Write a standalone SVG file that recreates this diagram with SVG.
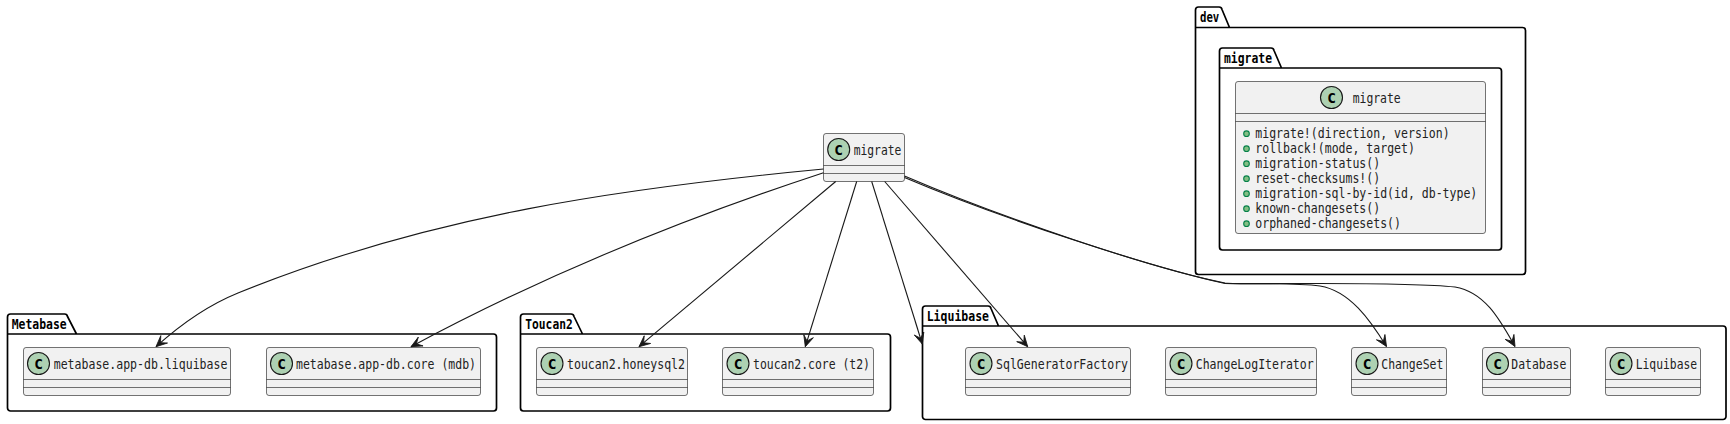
<svg xmlns="http://www.w3.org/2000/svg" width="1730" height="424" viewBox="0 0 1730 424">
<style>
text{font-family:"DejaVu Sans Mono","Liberation Mono",monospace;fill:#000}
.pkg{fill:none;stroke:#000;stroke-width:1.7;stroke-linejoin:round}
.pl{font-size:14px;font-weight:700}
.box{fill:#F1F1F1;stroke:#181818;stroke-width:.6}
.sep{stroke:#181818;stroke-width:.6}
.spot{fill:#ADD1B2;stroke:#181818;stroke-width:1.1}
.c{font-size:14.5px;font-weight:700;text-anchor:middle}
.t{font-size:13.5px;fill:#222}
.dot{fill:#84BE84;stroke:#038048;stroke-width:1.1}
.e{fill:none;stroke:#181818;stroke-width:1.1}
</style>
<defs>
<marker id="arr" markerUnits="userSpaceOnUse" markerWidth="14" markerHeight="14" refX="12" refY="7" orient="auto" viewBox="0 0 14 14">
<path d="M12,7 L1,2 L6,7 L1,12 Z" fill="#181818" stroke="#181818" stroke-width=".8"/>
</marker>
</defs>

<g id="pkg-metabase">
<path class="pkg" d="M7.5,317 A3,3 0 0 1 10.5,314 L64.5,314 A3,3 0 0 1 67.5,316.5 L76.5,334 L493.5,334 A3,3 0 0 1 496.5,337 L496.5,408 A3,3 0 0 1 493.5,411 L10.5,411 A3,3 0 0 1 7.5,408 Z M7.5,334 L76.5,334"/>
<text class="pl" x="11.7" y="329" textLength="55" lengthAdjust="spacingAndGlyphs">Metabase</text>
</g>
<g id="pkg-toucan2">
<path class="pkg" d="M520.5,317 A3,3 0 0 1 523.5,314 L571,314 A3,3 0 0 1 574,316.5 L582.5,334 L887.5,334 A3,3 0 0 1 890.5,337 L890.5,408 A3,3 0 0 1 887.5,411 L523.5,411 A3,3 0 0 1 520.5,408 Z M520.5,334 L582.5,334"/>
<text class="pl" x="525.3" y="329" textLength="47.4" lengthAdjust="spacingAndGlyphs">Toucan2</text>
</g>
<g id="pkg-liquibase">
<path class="pkg" d="M922.5,309 A3,3 0 0 1 925.5,306 L988,306 A3,3 0 0 1 991,308.5 L998.5,326 L1723,326 A3,3 0 0 1 1726,329 L1726,416.5 A3,3 0 0 1 1723,419.5 L925.5,419.5 A3,3 0 0 1 922.5,416.5 Z M922.5,326 L998.5,326"/>
<text class="pl" x="926.7" y="321" textLength="62.3" lengthAdjust="spacingAndGlyphs">Liquibase</text>
</g>
<g id="pkg-dev">
<path class="pkg" d="M1195.5,10 A3,3 0 0 1 1198.5,7 L1219,7 A3,3 0 0 1 1222,9.5 L1229.5,27.5 L1522.5,27.5 A3,3 0 0 1 1525.5,30.5 L1525.5,271.5 A3,3 0 0 1 1522.5,274.5 L1198.5,274.5 A3,3 0 0 1 1195.5,271.5 Z M1195.5,27.5 L1229.5,27.5"/>
<text class="pl" x="1200" y="22" textLength="19.3" lengthAdjust="spacingAndGlyphs">dev</text>
</g>
<g id="pkg-dev-migrate">
<path class="pkg" d="M1219.5,51 A3,3 0 0 1 1222.5,48 L1271,48 A3,3 0 0 1 1274,50.5 L1281.5,68 L1498.5,68 A3,3 0 0 1 1501.5,71 L1501.5,247 A3,3 0 0 1 1498.5,250 L1222.5,250 A3,3 0 0 1 1219.5,247 Z M1219.5,68 L1281.5,68"/>
<text class="pl" x="1224" y="63" textLength="48" lengthAdjust="spacingAndGlyphs">migrate</text>
</g>

<g id="cls-migrate-members">
<rect class="box" x="1235.5" y="81.5" width="250" height="152" rx="2.5"/>
<line class="sep" x1="1235.5" y1="113.5" x2="1485.5" y2="113.5"/>
<line class="sep" x1="1235.5" y1="121.5" x2="1485.5" y2="121.5"/>
<circle class="spot" cx="1331.5" cy="97.5" r="11"/>
<text class="c" x="1331.5" y="102.5">C</text>
<text class="t" x="1352.7" y="102.5" textLength="48" lengthAdjust="spacingAndGlyphs">migrate</text>
<circle class="dot" cx="1246.5" cy="133.7" r="2.8"/>
<circle class="dot" cx="1246.5" cy="148.7" r="2.8"/>
<circle class="dot" cx="1246.5" cy="163.7" r="2.8"/>
<circle class="dot" cx="1246.5" cy="178.7" r="2.8"/>
<circle class="dot" cx="1246.5" cy="193.7" r="2.8"/>
<circle class="dot" cx="1246.5" cy="208.7" r="2.8"/>
<circle class="dot" cx="1246.5" cy="223.7" r="2.8"/>
<text class="t" x="1255.3" y="138.3" textLength="194.3" lengthAdjust="spacingAndGlyphs">migrate!(direction, version)</text>
<text class="t" x="1255.3" y="153.3" textLength="159.6" lengthAdjust="spacingAndGlyphs">rollback!(mode, target)</text>
<text class="t" x="1255.3" y="168.3" textLength="124.9" lengthAdjust="spacingAndGlyphs">migration-status()</text>
<text class="t" x="1255.3" y="183.3" textLength="124.9" lengthAdjust="spacingAndGlyphs">reset-checksums!()</text>
<text class="t" x="1255.3" y="198.3" textLength="222" lengthAdjust="spacingAndGlyphs">migration-sql-by-id(id, db-type)</text>
<text class="t" x="1255.3" y="213.3" textLength="124.9" lengthAdjust="spacingAndGlyphs">known-changesets()</text>
<text class="t" x="1255.3" y="228.3" textLength="145.7" lengthAdjust="spacingAndGlyphs">orphaned-changesets()</text>
</g>

<g id="cls-migrate">
<rect class="box" x="823.5" y="133.5" width="81" height="48" rx="2.5"/>
<line class="sep" x1="823.5" y1="165.5" x2="904.5" y2="165.5"/>
<line class="sep" x1="823.5" y1="173.5" x2="904.5" y2="173.5"/>
<circle class="spot" cx="838.7" cy="149.5" r="11"/>
<text class="c" x="838.7" y="154.5">C</text>
<text class="t" x="853.7" y="154.5" textLength="47.6" lengthAdjust="spacingAndGlyphs">migrate</text>
</g>

<g id="cls-mdb-liquibase">
<rect class="box" x="23.5" y="347.5" width="207" height="48" rx="2.5"/>
<line class="sep" x1="23.5" y1="379.5" x2="230.5" y2="379.5"/>
<line class="sep" x1="23.5" y1="387.5" x2="230.5" y2="387.5"/>
<circle class="spot" cx="38.5" cy="363.5" r="11"/>
<text class="c" x="38.5" y="368.5">C</text>
<text class="t" x="53.7" y="368.5" textLength="173.7" lengthAdjust="spacingAndGlyphs">metabase.app-db.liquibase</text>
</g>
<g id="cls-mdb-core">
<rect class="box" x="266.5" y="347.5" width="214" height="48" rx="2.5"/>
<line class="sep" x1="266.5" y1="379.5" x2="480.5" y2="379.5"/>
<line class="sep" x1="266.5" y1="387.5" x2="480.5" y2="387.5"/>
<circle class="spot" cx="281.5" cy="363.5" r="11"/>
<text class="c" x="281.5" y="368.5">C</text>
<text class="t" x="296" y="368.5" textLength="180" lengthAdjust="spacingAndGlyphs">metabase.app-db.core (mdb)</text>
</g>
<g id="cls-t2-honeysql">
<rect class="box" x="536.5" y="347.5" width="151" height="48" rx="2.5"/>
<line class="sep" x1="536.5" y1="379.5" x2="687.5" y2="379.5"/>
<line class="sep" x1="536.5" y1="387.5" x2="687.5" y2="387.5"/>
<circle class="spot" cx="552" cy="363.5" r="11"/>
<text class="c" x="552" y="368.5">C</text>
<text class="t" x="567" y="368.5" textLength="118" lengthAdjust="spacingAndGlyphs">toucan2.honeysql2</text>
</g>
<g id="cls-t2-core">
<rect class="box" x="722.5" y="347.5" width="151" height="48" rx="2.5"/>
<line class="sep" x1="722.5" y1="379.5" x2="873.5" y2="379.5"/>
<line class="sep" x1="722.5" y1="387.5" x2="873.5" y2="387.5"/>
<circle class="spot" cx="738" cy="363.5" r="11"/>
<text class="c" x="738" y="368.5">C</text>
<text class="t" x="753" y="368.5" textLength="117" lengthAdjust="spacingAndGlyphs">toucan2.core (t2)</text>
</g>
<g id="cls-sqlgen">
<rect class="box" x="965.5" y="347.5" width="165" height="48" rx="2.5"/>
<line class="sep" x1="965.5" y1="379.5" x2="1130.5" y2="379.5"/>
<line class="sep" x1="965.5" y1="387.5" x2="1130.5" y2="387.5"/>
<circle class="spot" cx="981" cy="363.5" r="11"/>
<text class="c" x="981" y="368.5">C</text>
<text class="t" x="996" y="368.5" textLength="132" lengthAdjust="spacingAndGlyphs">SqlGeneratorFactory</text>
</g>
<g id="cls-changelog">
<rect class="box" x="1165.5" y="347.5" width="151" height="48" rx="2.5"/>
<line class="sep" x1="1165.5" y1="379.5" x2="1316.5" y2="379.5"/>
<line class="sep" x1="1165.5" y1="387.5" x2="1316.5" y2="387.5"/>
<circle class="spot" cx="1181" cy="363.5" r="11"/>
<text class="c" x="1181" y="368.5">C</text>
<text class="t" x="1195.7" y="368.5" textLength="118" lengthAdjust="spacingAndGlyphs">ChangeLogIterator</text>
</g>
<g id="cls-changeset">
<rect class="box" x="1351.5" y="347.5" width="95" height="48" rx="2.5"/>
<line class="sep" x1="1351.5" y1="379.5" x2="1446.5" y2="379.5"/>
<line class="sep" x1="1351.5" y1="387.5" x2="1446.5" y2="387.5"/>
<circle class="spot" cx="1367" cy="363.5" r="11"/>
<text class="c" x="1367" y="368.5">C</text>
<text class="t" x="1381.3" y="368.5" textLength="62" lengthAdjust="spacingAndGlyphs">ChangeSet</text>
</g>
<g id="cls-database">
<rect class="box" x="1482.5" y="347.5" width="88" height="48" rx="2.5"/>
<line class="sep" x1="1482.5" y1="379.5" x2="1570.5" y2="379.5"/>
<line class="sep" x1="1482.5" y1="387.5" x2="1570.5" y2="387.5"/>
<circle class="spot" cx="1497.5" cy="363.5" r="11"/>
<text class="c" x="1497.5" y="368.5">C</text>
<text class="t" x="1511.3" y="368.5" textLength="55" lengthAdjust="spacingAndGlyphs">Database</text>
</g>
<g id="cls-liquibase">
<rect class="box" x="1605.5" y="347.5" width="95" height="48" rx="2.5"/>
<line class="sep" x1="1605.5" y1="379.5" x2="1700.5" y2="379.5"/>
<line class="sep" x1="1605.5" y1="387.5" x2="1700.5" y2="387.5"/>
<circle class="spot" cx="1621" cy="363.5" r="11"/>
<text class="c" x="1621" y="368.5">C</text>
<text class="t" x="1635.7" y="368.5" textLength="61.5" lengthAdjust="spacingAndGlyphs">Liquibase</text>
</g>

<g id="connectors">
<path class="e" marker-end="url(#arr)" d="M823.5,169 C623.5,188 430,215 238,293 C207,305.6 180,325 156,346.7"/>
<path class="e" marker-end="url(#arr)" d="M823.5,172.7 C686.5,217.7 548,273 411,346.7"/>
<path class="e" marker-end="url(#arr)" d="M835.7,181.5 L639,346.7"/>
<path class="e" marker-end="url(#arr)" d="M856.7,181.5 L805.3,346.7"/>
<path class="e" marker-end="url(#arr)" d="M871.7,181.5 L922.3,344"/>
<path class="e" marker-end="url(#arr)" d="M884.7,181.5 L1027.7,346.7"/>
<path class="e" marker-end="url(#arr)" d="M904.5,176 C1000,217 1150,268 1225,283 C1245,285 1290,282 1320,286 C1350,291 1370,320 1386.5,346.5"/>
<path class="e" marker-end="url(#arr)" d="M904.5,177.5 C1000,218 1150,267 1225,283.5 C1260,284.5 1400,281 1455,287 C1485,292 1500,320 1515,346.5"/>
</g>
</svg>
